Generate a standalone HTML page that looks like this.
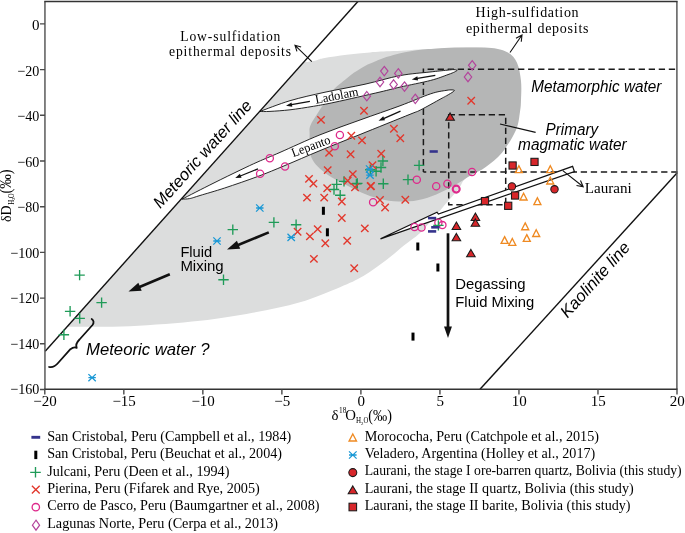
<!DOCTYPE html>
<html><head><meta charset="utf-8"><style>
html,body{margin:0;padding:0;background:#fff;}
svg{display:block;will-change:transform;}
</style></head><body>
<svg width="685" height="533" viewBox="0 0 685 533">
<clipPath id="cmw"><polygon points="45.2,351.2 357.9,1.5 700,1.5 700,400 45.2,400"/></clipPath>
<path d="M 250,69.5 C 296.4,29.8 296.17,63.68 308.4,61.8 C 320.63,59.92 317.02,59.38 323.4,58.2 C 329.78,57.02 338.93,55.67 346.7,54.7 C 354.47,53.73 362.22,53 370,52.4 C 377.78,51.8 383.4,51.63 393.4,51.1 C 403.4,50.57 413.9,49.55 430,49.2 C 446.1,48.85 476.33,45.53 490,49 C 503.67,52.47 508.33,58.17 512,70 C 515.67,81.83 515.67,105 512,120 C 508.33,135 497.62,150.42 490,160 C 482.38,169.58 471.5,172.7 466.3,177.5 C 461.1,182.3 462.23,184.42 458.8,188.8 C 455.37,193.18 449.45,199.43 445.7,203.8 C 441.95,208.17 440.58,210.15 436.3,215 C 432.02,219.85 425.35,227.87 420,232.9 C 414.65,237.93 409.75,240.72 404.2,245.2 C 398.65,249.68 393.5,254.65 386.7,259.8 C 379.9,264.95 371.18,271.53 363.4,276.1 C 355.62,280.67 350.57,282.83 340,287.2 C 329.43,291.57 314.55,298.03 300,302.3 C 285.45,306.57 269.37,309.72 252.7,312.8 C 236.03,315.88 220.45,318.57 200,320.8 C 179.55,323.03 151.67,325.2 130,326.2 C 108.33,327.2 86.67,326.7 70,326.8 C 53.33,326.9 36.67,331.27 30,326.8 C 23.33,322.33 -6.67,342.88 30,300 C 66.67,257.12 203.6,109.2 250,69.5 Z" fill="#dcdddd" clip-path="url(#cmw)"/>
<path d="M 309.6,135 C 309.72,131.45 308.88,129.45 310.3,125.7 C 311.72,121.95 315.57,116.53 318.1,112.5 C 320.63,108.47 323.08,105.08 325.5,101.5 C 327.92,97.92 330.73,93.48 332.6,91 C 334.47,88.52 334.57,88.5 336.7,86.6 C 338.83,84.7 342.48,81.93 345.4,79.6 C 348.32,77.27 350.93,74.88 354.2,72.6 C 357.47,70.32 361.53,67.75 365,65.9 C 368.47,64.05 372.22,62.7 375,61.5 C 377.78,60.3 378.63,59.78 381.7,58.7 C 384.77,57.62 389.52,56.07 393.4,55 C 397.28,53.93 401.12,53.08 405,52.3 C 408.88,51.52 412.8,50.83 416.7,50.3 C 420.6,49.77 424.52,49.45 428.4,49.1 C 432.28,48.75 434.58,48.45 440,48.2 C 445.42,47.95 452.32,47.63 460.9,47.6 C 469.48,47.57 483.67,47.18 491.5,48 C 499.33,48.82 503.65,50.05 507.9,52.5 C 512.15,54.95 514.82,57.95 517,62.7 C 519.18,67.45 520.33,74.78 521,81 C 521.67,87.22 521.17,94.88 521,100 C 520.83,105.12 520.83,106.7 520,111.7 C 519.17,116.7 519,123.17 516,130 C 513,136.83 507.03,146.53 502,152.7 C 496.97,158.87 490.88,163.28 485.8,167 C 480.72,170.72 476.63,172 471.5,175 C 466.37,178 460.87,181.77 455,185 C 449.13,188.23 442.55,191.87 436.3,194.4 C 430.05,196.93 423.75,199 417.5,200.2 C 411.25,201.4 405.25,201.85 398.8,201.6 C 392.35,201.35 385.05,200.2 378.8,198.7 C 372.55,197.2 367.13,195.08 361.3,192.6 C 355.47,190.12 349.35,186.73 343.8,183.8 C 338.25,180.87 332.38,177.92 328,175 C 323.62,172.08 320.27,169.22 317.5,166.3 C 314.73,163.38 312.72,160.72 311.4,157.5 C 310.08,154.28 309.9,150.75 309.6,147 C 309.3,143.25 309.48,138.55 309.6,135 Z" fill="#b5b6b6"/>
<path d="M 427.6,69.2 H 677" stroke="#1a1a1a" stroke-width="1.5" stroke-dasharray="6.3,3.75" fill="none"/>
<path d="M 423.4,68.6 V 171.9" stroke="#1a1a1a" stroke-width="1.5" stroke-dasharray="6.3,3.75" fill="none"/>
<path d="M 677.5,172 H 423.4" stroke="#1a1a1a" stroke-width="1.5" stroke-dasharray="6.3,3.75" fill="none"/>
<path d="M 448.7,114.8 H 505.7 V 204.7 H 448.7 Z" stroke="#1a1a1a" stroke-width="1.5" stroke-dasharray="6.3,3.7" fill="none"/>
<path d="M 259.7,111.5 C 264.75,109.7 279.12,103.92 290,100.7 C 300.88,97.48 312.5,94.95 325,92.2 C 337.5,89.45 352.5,86.97 365,84.2 C 377.5,81.43 389.17,77.63 400,75.6 C 410.83,73.57 422.17,72.9 430,72 C 437.83,71.1 443,70.6 447,70.2 C 451,69.8 452.3,69.57 454,69.6 C 455.7,69.63 456.67,70.27 457.2,70.4  L 457.2,70.4 C 456.75,70.67 456.03,71.3 454.5,72 C 452.97,72.7 451.97,73.2 448,74.6 C 444.03,76 438.7,78.32 430.7,80.4 C 422.7,82.48 408.45,85.17 400,87.1 C 391.55,89.03 390.83,89.48 380,92 C 369.17,94.52 346.1,99.82 335,102.2 C 323.9,104.58 320.9,105.03 313.4,106.3 C 305.9,107.57 297.23,108.95 290,109.8 C 282.77,110.65 275.05,111.12 270,111.4 C 264.95,111.68 261.42,111.48 259.7,111.5 Z" fill="#fff" stroke="#111" stroke-width="0.9"/>
<path d="M 182.1,199.1 C 187.25,196.48 203.35,188.22 213,183.4 C 222.65,178.58 232.5,173.8 240,170.2 C 247.5,166.6 251.33,164.77 258,161.8 C 264.67,158.83 269.67,156.9 280,152.4 C 290.33,147.9 306.67,140.2 320,134.8 C 333.33,129.4 346.67,124.83 360,120 C 373.33,115.17 388.22,110.17 400,105.8 C 411.78,101.43 423.03,96.37 430.7,93.8 C 438.37,91.23 442.45,91.05 446,90.4 C 449.55,89.75 450.6,89.92 452,89.9 C 453.4,89.88 454,90.23 454.4,90.3  L 454.4,90.3 C 454.18,90.55 454.33,90.93 453.1,91.8 C 451.87,92.67 449.03,94.33 447,95.5 C 444.97,96.67 445.33,96.38 440.9,98.8 C 436.47,101.22 425.55,107.42 420.4,110 C 415.25,112.58 420.07,110.22 410,114.3 C 399.93,118.38 375,128.45 360,134.5 C 345,140.55 332.5,145.43 320,150.6 C 307.5,155.77 295.33,161.2 285,165.5 C 274.67,169.8 268.05,172.65 258,176.4 C 247.95,180.15 234.37,184.82 224.7,188 C 215.03,191.18 205.83,193.73 200,195.5 C 194.17,197.27 192.68,198 189.7,198.6 C 186.72,199.2 183.37,199.02 182.1,199.1 Z" fill="#fff" stroke="#111" stroke-width="0.9"/>
<path d="M 380.5,238.8 L 437,212.2 L 438.4,214.1 L 572.6,166.3 L 574.4,171.5 Z" fill="#fff" stroke="#111" stroke-width="1.25"/>
<line x1="45.2" y1="351.2" x2="357.9" y2="1.5" stroke="#111" stroke-width="1.4"/>
<line x1="480.0" y1="389.3" x2="677.2" y2="172.8" stroke="#111" stroke-width="1.4"/>
<path d="M 91.7,319 C 93.8,320.3 94.2,323 92.5,325 L 79.5,339.5 C 77,342 75.3,344.5 76.7,347.8 C 74.5,347 72.5,347.6 70.4,349.2 L 58.5,362.5 C 56,365.5 53,368 49.1,367" fill="none" stroke="#111" stroke-width="1.8" stroke-linecap="round" stroke-linejoin="round"/>
<line x1="500" y1="124" x2="535.6" y2="132.4" stroke="#111" stroke-width="1.1"/>
<path d="M 311.8,61.6 L 295,45.3 M 301.11,47.05 L 295,45.3 L 296.93,51.35" stroke="#111" stroke-width="1.1" fill="none" stroke-linejoin="miter"/>
<path d="M 510,52.5 L 522,35 M 521.25,41.76 L 522,35 L 515.97,38.14" stroke="#111" stroke-width="1.1" fill="none" stroke-linejoin="miter"/>
<path d="M 562.8,170.6 L 583.2,186.8 M 576.51,185.57 L 583.2,186.8 L 580.49,180.56" stroke="#111" stroke-width="1.1" fill="none" stroke-linejoin="miter"/>
<line x1="169.8" y1="274.2" x2="136.56" y2="288.2" stroke="#111" stroke-width="2.6"/><path d="M 128.5,291.6 L 138.35,282.78 L 141.69,290.71 Z" fill="#111"/>
<line x1="268.8" y1="232.4" x2="235.09" y2="246.27" stroke="#111" stroke-width="2.6"/><path d="M 227,249.6 L 236.92,240.87 L 240.2,248.82 Z" fill="#111"/>
<line x1="448" y1="233.3" x2="448" y2="330.02" stroke="#111" stroke-width="2.7"/><path d="M 448,338 L 444.05,326.6 L 451.95,326.6 Z" fill="#111"/>
<line x1="309.9" y1="101.4" x2="290.13" y2="104.96" stroke="#111" stroke-width="1.3"/><path d="M 286,105.7 L 291.52,102.47 L 292.29,106.8 Z" fill="#111"/>
<line x1="435.3" y1="75.3" x2="415.94" y2="78.68" stroke="#111" stroke-width="1.3"/><path d="M 411.8,79.4 L 417.33,76.2 L 418.09,80.54 Z" fill="#111"/>
<line x1="258" y1="168.8" x2="239.09" y2="176.51" stroke="#111" stroke-width="1.3"/><path d="M 235.2,178.1 L 239.92,173.8 L 241.59,177.87 Z" fill="#111"/>
<line x1="400.5" y1="111.2" x2="382.45" y2="119.03" stroke="#111" stroke-width="1.3"/><path d="M 378.6,120.7 L 383.23,116.29 L 384.98,120.33 Z" fill="#111"/>
<path d="M 44.95,1.5 V 389.3 M 676.9,1.5 V 389.3" stroke="#555" stroke-width="1.45" fill="none"/>
<path d="M 44.25,1.5 H 677.6 M 44.25,389.25 H 677.6" stroke="#333" stroke-width="1.4" fill="none"/>
<text x="39.4" y="30.2" text-anchor="end" font-family="'Liberation Serif', serif" font-size="15" fill="#000">0</text>
<text x="39.4" y="75.72" text-anchor="end" font-family="'Liberation Serif', serif" font-size="15" fill="#000" textLength="22.05" lengthAdjust="spacingAndGlyphs">−20</text>
<text x="39.4" y="121.23" text-anchor="end" font-family="'Liberation Serif', serif" font-size="15" fill="#000" textLength="22.05" lengthAdjust="spacingAndGlyphs">−40</text>
<text x="39.4" y="166.75" text-anchor="end" font-family="'Liberation Serif', serif" font-size="15" fill="#000" textLength="22.05" lengthAdjust="spacingAndGlyphs">−60</text>
<text x="39.4" y="212.27" text-anchor="end" font-family="'Liberation Serif', serif" font-size="15" fill="#000" textLength="22.05" lengthAdjust="spacingAndGlyphs">−80</text>
<text x="39.4" y="257.78" text-anchor="end" font-family="'Liberation Serif', serif" font-size="15" fill="#000" textLength="29.1" lengthAdjust="spacingAndGlyphs">−100</text>
<text x="39.4" y="303.3" text-anchor="end" font-family="'Liberation Serif', serif" font-size="15" fill="#000" textLength="29.1" lengthAdjust="spacingAndGlyphs">−120</text>
<text x="39.4" y="348.82" text-anchor="end" font-family="'Liberation Serif', serif" font-size="15" fill="#000" textLength="29.1" lengthAdjust="spacingAndGlyphs">−140</text>
<text x="39.4" y="394.33" text-anchor="end" font-family="'Liberation Serif', serif" font-size="15" fill="#000" textLength="29.1" lengthAdjust="spacingAndGlyphs">−160</text>
<text x="45.1" y="406" text-anchor="middle" font-family="'Liberation Serif', serif" font-size="15" fill="#000">−20</text>
<text x="124.12" y="406" text-anchor="middle" font-family="'Liberation Serif', serif" font-size="15" fill="#000">−15</text>
<text x="203.15" y="406" text-anchor="middle" font-family="'Liberation Serif', serif" font-size="15" fill="#000">−10</text>
<text x="282.18" y="406" text-anchor="middle" font-family="'Liberation Serif', serif" font-size="15" fill="#000">−5</text>
<text x="361.2" y="406" text-anchor="middle" font-family="'Liberation Serif', serif" font-size="15" fill="#000">0</text>
<text x="440.23" y="406" text-anchor="middle" font-family="'Liberation Serif', serif" font-size="15" fill="#000">5</text>
<text x="519.25" y="406" text-anchor="middle" font-family="'Liberation Serif', serif" font-size="15" fill="#000">10</text>
<text x="598.27" y="406" text-anchor="middle" font-family="'Liberation Serif', serif" font-size="15" fill="#000">15</text>
<text x="677.3" y="406" text-anchor="middle" font-family="'Liberation Serif', serif" font-size="15" fill="#000">20</text>
<path d="M 40,23.9 H 45 M 40,69.6 H 45 M 40,115.3 H 45 M 40,161 H 45 M 40,206.7 H 45 M 40,252.4 H 45 M 40,298.1 H 45 M 40,343.8 H 45 M 40,389.5 H 45 M 44.8,389.5 V 394.5 M 123.83,389.5 V 394.5 M 202.85,389.5 V 394.5 M 281.88,389.5 V 394.5 M 360.9,389.5 V 394.5 M 439.93,389.5 V 394.5 M 518.95,389.5 V 394.5 M 597.97,389.5 V 394.5 M 677,389.5 V 394.5" stroke="#4a4a4a" stroke-width="1.4"/>
<text x="331.6" y="420.3" font-family="'Liberation Serif', serif" font-size="14.8" fill="#000">δ</text>
<text x="339.1" y="412.9" font-family="'Liberation Serif', serif" font-size="7.3" fill="#000">18</text>
<text x="345.3" y="420.3" font-family="'Liberation Serif', serif" font-size="14.8" fill="#000">O</text>
<text x="356" y="422.9" font-family="'Liberation Serif', serif" font-size="7.8" fill="#000" textLength="5.1" lengthAdjust="spacingAndGlyphs">H</text>
<text x="360.9" y="424.5" font-family="'Liberation Serif', serif" font-size="4.8" fill="#000">2</text>
<text x="363.6" y="422.9" font-family="'Liberation Serif', serif" font-size="7.8" fill="#000" textLength="4.8" lengthAdjust="spacingAndGlyphs">O</text>
<text x="368.3" y="420.6" font-family="'Liberation Serif', serif" font-size="16.2" fill="#000" textLength="23.6" lengthAdjust="spacingAndGlyphs">(‰)</text>
<g transform="translate(10.9,221.8) rotate(-90)"><text x="-0.3" y="0" font-family="'Liberation Serif', serif" font-size="14.8" fill="#000" textLength="16.6" lengthAdjust="spacingAndGlyphs">δD</text><text x="17.1" y="2.8" font-family="'Liberation Serif', serif" font-size="7.8" fill="#000" textLength="5" lengthAdjust="spacingAndGlyphs">H</text><text x="21.9" y="4.4" font-family="'Liberation Serif', serif" font-size="4.8" fill="#000">2</text><text x="23.9" y="2.8" font-family="'Liberation Serif', serif" font-size="7.8" fill="#000" textLength="4.6" lengthAdjust="spacingAndGlyphs">O</text><text x="28.3" y="0.3" font-family="'Liberation Serif', serif" font-size="16.2" fill="#000" textLength="24.2" lengthAdjust="spacingAndGlyphs">(‰)</text></g>
<text x="180.2" y="41.1" font-family="'Liberation Serif', serif" font-size="13.6" fill="#000" textLength="100.2" lengthAdjust="spacing">Low-sulfidation</text>
<text x="169" y="56" font-family="'Liberation Serif', serif" font-size="13.6" fill="#000" textLength="122" lengthAdjust="spacing">epithermal deposits</text>
<text x="475.6" y="17.4" font-family="'Liberation Serif', serif" font-size="14" fill="#000" textLength="103" lengthAdjust="spacing">High-sulfidation</text>
<text x="465.9" y="32.5" font-family="'Liberation Serif', serif" font-size="14" fill="#000" textLength="122.6" lengthAdjust="spacing">epithermal deposits</text>
<text x="531.3" y="91.5" font-family="'Liberation Sans', sans-serif" font-size="16.3" fill="#000" font-style="italic" textLength="130" lengthAdjust="spacingAndGlyphs">Metamorphic water</text>
<text x="545.6" y="135.1" font-family="'Liberation Sans', sans-serif" font-size="16.3" fill="#000" font-style="italic" textLength="52.5" lengthAdjust="spacingAndGlyphs">Primary</text>
<text x="518.1" y="149.7" font-family="'Liberation Sans', sans-serif" font-size="16.3" fill="#000" font-style="italic" textLength="108.6" lengthAdjust="spacingAndGlyphs">magmatic water</text>
<text x="584.8" y="193" font-family="'Liberation Serif', serif" font-size="14.4" fill="#000" textLength="47" lengthAdjust="spacingAndGlyphs">Laurani</text>
<text x="180.4" y="256.6" font-family="'Liberation Sans', sans-serif" font-size="14.6" fill="#000" textLength="31.8" lengthAdjust="spacingAndGlyphs">Fluid</text>
<text x="180.4" y="271.1" font-family="'Liberation Sans', sans-serif" font-size="14.6" fill="#000" textLength="43.3" lengthAdjust="spacingAndGlyphs">Mixing</text>
<text x="455.3" y="288.5" font-family="'Liberation Sans', sans-serif" font-size="14.6" fill="#000" textLength="70.3" lengthAdjust="spacingAndGlyphs">Degassing</text>
<text x="455.3" y="307.2" font-family="'Liberation Sans', sans-serif" font-size="14.6" fill="#000" textLength="79" lengthAdjust="spacingAndGlyphs">Fluid Mixing</text>
<text x="86" y="355.4" font-family="'Liberation Sans', sans-serif" font-size="16.4" fill="#000" font-style="italic" textLength="123.5" lengthAdjust="spacingAndGlyphs">Meteoric water ?</text>
<text x="0" y="0" font-family="'Liberation Sans', sans-serif" font-size="16.6" fill="#000" font-style="italic" textLength="138.5" lengthAdjust="spacingAndGlyphs" transform="translate(160.3,209.2) rotate(-48.1)">Meteoric water line</text>
<text x="0" y="0" font-family="'Liberation Sans', sans-serif" font-size="16.8" fill="#000" font-style="italic" textLength="95" lengthAdjust="spacingAndGlyphs" transform="translate(567.6,318.8) rotate(-48.1)">Kaolinite line</text>
<text x="0" y="0" font-family="'Liberation Serif', serif" font-size="12.9" fill="#000" textLength="43.8" lengthAdjust="spacingAndGlyphs" transform="translate(316.0,103.8) rotate(-10.9)">Ladolam</text>
<text x="0" y="0" font-family="'Liberation Serif', serif" font-size="12.9" fill="#000" textLength="40.6" lengthAdjust="spacingAndGlyphs" transform="translate(293.2,157.2) rotate(-20.4)">Lepanto</text>
<circle cx="269.8" cy="158.3" r="3.6" fill="none" stroke="#de2a8c" stroke-width="1.3"/>
<circle cx="285" cy="166.5" r="3.6" fill="none" stroke="#de2a8c" stroke-width="1.3"/>
<circle cx="260.1" cy="173.7" r="3.6" fill="none" stroke="#de2a8c" stroke-width="1.3"/>
<circle cx="339.9" cy="135" r="3.6" fill="none" stroke="#de2a8c" stroke-width="1.3"/>
<circle cx="334.8" cy="146.2" r="3.6" fill="none" stroke="#de2a8c" stroke-width="1.3"/>
<circle cx="373.1" cy="202.3" r="3.6" fill="none" stroke="#de2a8c" stroke-width="1.3"/>
<circle cx="472" cy="172" r="3.6" fill="none" stroke="#de2a8c" stroke-width="1.3"/>
<circle cx="416.8" cy="179.8" r="3.6" fill="none" stroke="#de2a8c" stroke-width="1.3"/>
<circle cx="436.2" cy="186.2" r="3.6" fill="none" stroke="#de2a8c" stroke-width="1.3"/>
<circle cx="447.4" cy="183.7" r="3.6" fill="none" stroke="#de2a8c" stroke-width="1.3"/>
<circle cx="456.2" cy="189.1" r="3.5" fill="none" stroke="#de2a8c" stroke-width="2.1"/>
<circle cx="414.5" cy="227" r="3.6" fill="none" stroke="#de2a8c" stroke-width="1.3"/>
<circle cx="421.5" cy="227.5" r="3.6" fill="none" stroke="#de2a8c" stroke-width="1.3"/>
<circle cx="438.4" cy="222.8" r="3.6" fill="none" stroke="#de2a8c" stroke-width="1.3"/>
<circle cx="442.4" cy="225.1" r="3.6" fill="none" stroke="#de2a8c" stroke-width="1.3"/>
<path d="M 74.4,275.1 H 84.8 M 79.6,269.9 V 280.3" stroke="#1f9b58" stroke-width="1.35"/>
<path d="M 96.4,302.6 H 106.8 M 101.6,297.4 V 307.8" stroke="#1f9b58" stroke-width="1.35"/>
<path d="M 64.9,311.3 H 75.3 M 70.1,306.1 V 316.5" stroke="#1f9b58" stroke-width="1.35"/>
<path d="M 74.5,318.3 H 84.9 M 79.7,313.1 V 323.5" stroke="#1f9b58" stroke-width="1.35"/>
<path d="M 58.7,334.7 H 69.1 M 63.9,329.5 V 339.9" stroke="#1f9b58" stroke-width="1.35"/>
<path d="M 227.6,229.6 H 238 M 232.8,224.4 V 234.8" stroke="#1f9b58" stroke-width="1.35"/>
<path d="M 268.7,222.4 H 279.1 M 273.9,217.2 V 227.6" stroke="#1f9b58" stroke-width="1.35"/>
<path d="M 218.3,279.7 H 228.7 M 223.5,274.5 V 284.9" stroke="#1f9b58" stroke-width="1.35"/>
<path d="M 290.9,224.7 H 301.3 M 296.1,219.5 V 229.9" stroke="#1f9b58" stroke-width="1.35"/>
<path d="M 335,195.2 H 345.4 M 340.2,190 V 200.4" stroke="#1f9b58" stroke-width="1.35"/>
<path d="M 328.8,189.5 H 339.2 M 334,184.3 V 194.7" stroke="#1f9b58" stroke-width="1.35"/>
<path d="M 331.5,184.3 H 341.9 M 336.7,179.1 V 189.5" stroke="#1f9b58" stroke-width="1.35"/>
<path d="M 338.8,181.4 H 349.2 M 344,176.2 V 186.6" stroke="#1f9b58" stroke-width="1.35"/>
<path d="M 351.2,183.9 H 361.6 M 356.4,178.7 V 189.1" stroke="#1f9b58" stroke-width="1.35"/>
<path d="M 377.7,161 H 388.1 M 382.9,155.8 V 166.2" stroke="#1f9b58" stroke-width="1.35"/>
<path d="M 375.8,167.5 H 386.2 M 381,162.3 V 172.7" stroke="#1f9b58" stroke-width="1.35"/>
<path d="M 370.9,171.2 H 381.3 M 376.1,166 V 176.4" stroke="#1f9b58" stroke-width="1.35"/>
<path d="M 365.1,169.7 H 375.5 M 370.3,164.5 V 174.9" stroke="#1f9b58" stroke-width="1.35"/>
<path d="M 378.1,183.7 H 388.5 M 383.3,178.5 V 188.9" stroke="#1f9b58" stroke-width="1.35"/>
<path d="M 352.1,183.4 H 362.5 M 357.3,178.2 V 188.6" stroke="#1f9b58" stroke-width="1.35"/>
<path d="M 413.9,165.4 H 424.3 M 419.1,160.2 V 170.6" stroke="#1f9b58" stroke-width="1.35"/>
<path d="M 402.8,179.6 H 413.2 M 408,174.4 V 184.8" stroke="#1f9b58" stroke-width="1.35"/>
<path d="M 433.2,225.4 H 443.6 M 438.4,220.2 V 230.6" stroke="#1f9b58" stroke-width="1.35"/>
<path d="M 303.3,193.9 L 310.7,201.3 M 303.3,201.3 L 310.7,193.9" stroke="#e2372c" stroke-width="1.35"/>
<path d="M 320.5,193.9 L 327.9,201.3 M 320.5,201.3 L 327.9,193.9" stroke="#e2372c" stroke-width="1.35"/>
<path d="M 338.1,197.8 L 345.5,205.2 M 338.1,205.2 L 345.5,197.8" stroke="#e2372c" stroke-width="1.35"/>
<path d="M 338.1,214.3 L 345.5,221.7 M 338.1,221.7 L 345.5,214.3" stroke="#e2372c" stroke-width="1.35"/>
<path d="M 361.1,224.7 L 368.5,232.1 M 361.1,232.1 L 368.5,224.7" stroke="#e2372c" stroke-width="1.35"/>
<path d="M 293.9,228 L 301.3,235.4 M 293.9,235.4 L 301.3,228" stroke="#e2372c" stroke-width="1.35"/>
<path d="M 314,225.4 L 321.4,232.8 M 314,232.8 L 321.4,225.4" stroke="#e2372c" stroke-width="1.35"/>
<path d="M 306.2,232.7 L 313.6,240.1 M 306.2,240.1 L 313.6,232.7" stroke="#e2372c" stroke-width="1.35"/>
<path d="M 321.6,239.6 L 329,247 M 321.6,247 L 329,239.6" stroke="#e2372c" stroke-width="1.35"/>
<path d="M 343.5,237.1 L 350.9,244.5 M 343.5,244.5 L 350.9,237.1" stroke="#e2372c" stroke-width="1.35"/>
<path d="M 310.2,255.2 L 317.6,262.6 M 310.2,262.6 L 317.6,255.2" stroke="#e2372c" stroke-width="1.35"/>
<path d="M 350.5,264.6 L 357.9,272 M 350.5,272 L 357.9,264.6" stroke="#e2372c" stroke-width="1.35"/>
<path d="M 325.4,149.2 L 332.8,156.6 M 325.4,156.6 L 332.8,149.2" stroke="#e2372c" stroke-width="1.35"/>
<path d="M 346.9,150.6 L 354.3,158 M 346.9,158 L 354.3,150.6" stroke="#e2372c" stroke-width="1.35"/>
<path d="M 377.5,150.1 L 384.9,157.5 M 377.5,157.5 L 384.9,150.1" stroke="#e2372c" stroke-width="1.35"/>
<path d="M 324,166.4 L 331.4,173.8 M 324,173.8 L 331.4,166.4" stroke="#e2372c" stroke-width="1.35"/>
<path d="M 349.1,170.4 L 356.5,177.8 M 349.1,177.8 L 356.5,170.4" stroke="#e2372c" stroke-width="1.35"/>
<path d="M 368.8,161.6 L 376.2,169 M 368.8,169 L 376.2,161.6" stroke="#e2372c" stroke-width="1.35"/>
<path d="M 305.3,175.2 L 312.7,182.6 M 305.3,182.6 L 312.7,175.2" stroke="#e2372c" stroke-width="1.35"/>
<path d="M 309.7,179.9 L 317.1,187.3 M 309.7,187.3 L 317.1,179.9" stroke="#e2372c" stroke-width="1.35"/>
<path d="M 323.5,184.5 L 330.9,191.9 M 323.5,191.9 L 330.9,184.5" stroke="#e2372c" stroke-width="1.35"/>
<path d="M 344,177 L 351.4,184.4 M 344,184.4 L 351.4,177" stroke="#e2372c" stroke-width="1.35"/>
<path d="M 351.3,183.5 L 358.7,190.9 M 351.3,190.9 L 358.7,183.5" stroke="#e2372c" stroke-width="1.35"/>
<path d="M 366.9,182.5 L 374.3,189.9 M 366.9,189.9 L 374.3,182.5" stroke="#e2372c" stroke-width="1.35"/>
<path d="M 376.3,196.3 L 383.7,203.7 M 376.3,203.7 L 383.7,196.3" stroke="#e2372c" stroke-width="1.35"/>
<path d="M 381.4,203.8 L 388.8,211.2 M 381.4,211.2 L 388.8,203.8" stroke="#e2372c" stroke-width="1.35"/>
<path d="M 317.3,116.2 L 324.7,123.6 M 317.3,123.6 L 324.7,116.2" stroke="#e2372c" stroke-width="1.35"/>
<path d="M 360.3,107.1 L 367.7,114.5 M 360.3,114.5 L 367.7,107.1" stroke="#e2372c" stroke-width="1.35"/>
<path d="M 347.6,132.1 L 355,139.5 M 347.6,139.5 L 355,132.1" stroke="#e2372c" stroke-width="1.35"/>
<path d="M 358.3,136.7 L 365.7,144.1 M 358.3,144.1 L 365.7,136.7" stroke="#e2372c" stroke-width="1.35"/>
<path d="M 390.2,125.1 L 397.6,132.5 M 390.2,132.5 L 397.6,125.1" stroke="#e2372c" stroke-width="1.35"/>
<path d="M 396.6,134.6 L 404,142 M 396.6,142 L 404,134.6" stroke="#e2372c" stroke-width="1.35"/>
<path d="M 467.5,97 L 474.9,104.4 M 467.5,104.4 L 474.9,97" stroke="#e2372c" stroke-width="1.35"/>
<path d="M 401.6,196.1 L 409,203.5 M 401.6,203.5 L 409,196.1" stroke="#e2372c" stroke-width="1.35"/>
<path d="M 367.3,182.3 L 374.7,189.7 M 367.3,189.7 L 374.7,182.3" stroke="#e2372c" stroke-width="1.35"/>
<path d="M 384.3,66.4 L 388,71.1 L 384.3,75.8 L 380.6,71.1 Z" fill="none" stroke="#b3449c" stroke-width="1.2"/>
<path d="M 398.3,68.7 L 402,73.4 L 398.3,78.1 L 394.6,73.4 Z" fill="none" stroke="#b3449c" stroke-width="1.2"/>
<path d="M 380,77.3 L 383.7,82 L 380,86.7 L 376.3,82 Z" fill="none" stroke="#b3449c" stroke-width="1.2"/>
<path d="M 393.6,79.8 L 397.3,84.5 L 393.6,89.2 L 389.9,84.5 Z" fill="none" stroke="#b3449c" stroke-width="1.2"/>
<path d="M 404.5,81.9 L 408.2,86.6 L 404.5,91.3 L 400.8,86.6 Z" fill="none" stroke="#b3449c" stroke-width="1.2"/>
<path d="M 366.8,91.5 L 370.5,96.2 L 366.8,100.9 L 363.1,96.2 Z" fill="none" stroke="#b3449c" stroke-width="1.2"/>
<path d="M 415.3,94.1 L 419,98.8 L 415.3,103.5 L 411.6,98.8 Z" fill="none" stroke="#b3449c" stroke-width="1.2"/>
<path d="M 472.2,60.6 L 475.9,65.3 L 472.2,70 L 468.5,65.3 Z" fill="none" stroke="#b3449c" stroke-width="1.2"/>
<path d="M 468,72.3 L 471.7,77 L 468,81.7 L 464.3,77 Z" fill="none" stroke="#b3449c" stroke-width="1.2"/>
<rect x="429.6" y="150.2" width="8.2" height="2.6" fill="#35338c"/>
<rect x="428" y="216.8" width="8.2" height="2.6" fill="#35338c"/>
<rect x="431.2" y="226" width="8.2" height="2.6" fill="#35338c"/>
<rect x="428" y="230.1" width="8.2" height="2.6" fill="#35338c"/>
<rect x="321.9" y="206.8" width="3" height="8" fill="#000"/>
<rect x="325.9" y="228.3" width="3" height="8" fill="#000"/>
<rect x="416.3" y="242.5" width="3" height="8" fill="#000"/>
<rect x="436.4" y="263.5" width="3" height="8" fill="#000"/>
<rect x="411.5" y="332.6" width="3" height="8" fill="#000"/>
<path d="M 88.4,374.1 L 95.8,381.3 M 88.4,381.3 L 95.8,374.1 M 88.4,377.7 H 95.8" stroke="#1a98d5" stroke-width="1.3"/>
<path d="M 256.1,204.4 L 263.5,211.6 M 256.1,211.6 L 263.5,204.4 M 256.1,208 H 263.5" stroke="#1a98d5" stroke-width="1.3"/>
<path d="M 213.3,237.4 L 220.7,244.6 M 213.3,244.6 L 220.7,237.4 M 213.3,241 H 220.7" stroke="#1a98d5" stroke-width="1.3"/>
<path d="M 287.5,233.8 L 294.9,241 M 287.5,241 L 294.9,233.8 M 287.5,237.4 H 294.9" stroke="#1a98d5" stroke-width="1.3"/>
<path d="M 365.9,165.4 L 373.3,172.6 M 365.9,172.6 L 373.3,165.4 M 365.9,169 H 373.3" stroke="#1a98d5" stroke-width="1.3"/>
<path d="M 366.3,171.5 L 373.7,178.7 M 366.3,178.7 L 373.7,171.5 M 366.3,175.1 H 373.7" stroke="#1a98d5" stroke-width="1.3"/>
<path d="M 518.9,165.8 L 522.4,172.6 L 515.4,172.6 Z" fill="none" stroke="#ef8a22" stroke-width="1.35" stroke-linejoin="miter"/>
<path d="M 550.3,165.8 L 553.8,172.6 L 546.8,172.6 Z" fill="none" stroke="#ef8a22" stroke-width="1.35" stroke-linejoin="miter"/>
<path d="M 550.3,177.2 L 553.8,184 L 546.8,184 Z" fill="none" stroke="#ef8a22" stroke-width="1.35" stroke-linejoin="miter"/>
<path d="M 523.6,193.2 L 527.1,200 L 520.1,200 Z" fill="none" stroke="#ef8a22" stroke-width="1.35" stroke-linejoin="miter"/>
<path d="M 537.4,197.8 L 540.9,204.6 L 533.9,204.6 Z" fill="none" stroke="#ef8a22" stroke-width="1.35" stroke-linejoin="miter"/>
<path d="M 525.2,222.9 L 528.7,229.7 L 521.7,229.7 Z" fill="none" stroke="#ef8a22" stroke-width="1.35" stroke-linejoin="miter"/>
<path d="M 536.2,229.7 L 539.7,236.5 L 532.7,236.5 Z" fill="none" stroke="#ef8a22" stroke-width="1.35" stroke-linejoin="miter"/>
<path d="M 526.8,234.6 L 530.3,241.4 L 523.3,241.4 Z" fill="none" stroke="#ef8a22" stroke-width="1.35" stroke-linejoin="miter"/>
<path d="M 504.6,236.6 L 508.1,243.4 L 501.1,243.4 Z" fill="none" stroke="#ef8a22" stroke-width="1.35" stroke-linejoin="miter"/>
<path d="M 512.3,238.5 L 515.8,245.3 L 508.8,245.3 Z" fill="none" stroke="#ef8a22" stroke-width="1.35" stroke-linejoin="miter"/>
<rect x="509" y="161.9" width="7.2" height="7.2" fill="#d7262a" stroke="#1a1a1a" stroke-width="1.05"/>
<rect x="530.9" y="158.3" width="7.2" height="7.2" fill="#d7262a" stroke="#1a1a1a" stroke-width="1.05"/>
<rect x="511.5" y="191.9" width="7.2" height="7.2" fill="#d7262a" stroke="#1a1a1a" stroke-width="1.05"/>
<rect x="504.6" y="202.2" width="7.2" height="7.2" fill="#d7262a" stroke="#1a1a1a" stroke-width="1.05"/>
<rect x="481.4" y="197.5" width="7.2" height="7.2" fill="#d7262a" stroke="#1a1a1a" stroke-width="1.05"/>
<circle cx="511.9" cy="186.4" r="3.7" fill="#d7262a" stroke="#1a1a1a" stroke-width="1.05"/>
<circle cx="554.5" cy="189.3" r="3.7" fill="#d7262a" stroke="#1a1a1a" stroke-width="1.05"/>
<path d="M 450.1,112.9 L 454.4,120.3 L 445.8,120.3 Z" fill="#d7262a" stroke="#1a1a1a" stroke-width="1.05" stroke-linejoin="miter"/>
<path d="M 475.4,213 L 479.7,220.4 L 471.1,220.4 Z" fill="#d7262a" stroke="#1a1a1a" stroke-width="1.05" stroke-linejoin="miter"/>
<path d="M 475.4,218.9 L 479.7,226.3 L 471.1,226.3 Z" fill="#d7262a" stroke="#1a1a1a" stroke-width="1.05" stroke-linejoin="miter"/>
<path d="M 456.4,222.1 L 460.7,229.5 L 452.1,229.5 Z" fill="#d7262a" stroke="#1a1a1a" stroke-width="1.05" stroke-linejoin="miter"/>
<path d="M 456.4,233.4 L 460.7,240.8 L 452.1,240.8 Z" fill="#d7262a" stroke="#1a1a1a" stroke-width="1.05" stroke-linejoin="miter"/>
<path d="M 470.9,249.4 L 475.2,256.8 L 466.6,256.8 Z" fill="#d7262a" stroke="#1a1a1a" stroke-width="1.05" stroke-linejoin="miter"/>
<text x="47.2" y="440.8" font-family="'Liberation Serif', serif" font-size="14.2" fill="#000" textLength="244" lengthAdjust="spacingAndGlyphs">San Cristobal, Peru (Campbell et al., 1984)</text>
<text x="47.2" y="458.25" font-family="'Liberation Serif', serif" font-size="14.2" fill="#000" textLength="234.8" lengthAdjust="spacingAndGlyphs">San Cristobal, Peru (Beuchat et al., 2004)</text>
<text x="47.2" y="475.7" font-family="'Liberation Serif', serif" font-size="14.2" fill="#000" textLength="182.2" lengthAdjust="spacingAndGlyphs">Julcani, Peru (Deen et al., 1994)</text>
<text x="47.2" y="493.2" font-family="'Liberation Serif', serif" font-size="14.2" fill="#000" textLength="212.6" lengthAdjust="spacingAndGlyphs">Pierina, Peru (Fifarek and Rye, 2005)</text>
<text x="47.2" y="510.4" font-family="'Liberation Serif', serif" font-size="14.2" fill="#000" textLength="272.3" lengthAdjust="spacingAndGlyphs">Cerro de Pasco, Peru (Baumgartner et al., 2008)</text>
<text x="47.2" y="527.6" font-family="'Liberation Serif', serif" font-size="14.2" fill="#000" textLength="230.8" lengthAdjust="spacingAndGlyphs">Lagunas Norte, Peru (Cerpa et al., 2013)</text>
<text x="364.7" y="440.8" font-family="'Liberation Serif', serif" font-size="14.2" fill="#000" textLength="234.3" lengthAdjust="spacingAndGlyphs">Morococha, Peru (Catchpole et al., 2015)</text>
<text x="364.7" y="458.0" font-family="'Liberation Serif', serif" font-size="14.2" fill="#000" textLength="230.6" lengthAdjust="spacingAndGlyphs">Veladero, Argentina (Holley et al., 2017)</text>
<text x="364.7" y="475.4" font-family="'Liberation Serif', serif" font-size="14.2" fill="#000" textLength="317" lengthAdjust="spacingAndGlyphs">Laurani, the stage I ore-barren quartz, Bolivia (this study)</text>
<text x="364.7" y="492.8" font-family="'Liberation Serif', serif" font-size="14.2" fill="#000" textLength="269" lengthAdjust="spacingAndGlyphs">Laurani, the stage II quartz, Bolivia (this study)</text>
<text x="364.7" y="510.0" font-family="'Liberation Serif', serif" font-size="14.2" fill="#000" textLength="265.9" lengthAdjust="spacingAndGlyphs">Laurani, the stage II barite, Bolivia (this study)</text>
<rect x="31.4" y="435.85" width="8.8" height="2.9" fill="#35338c"/>
<rect x="34.3" y="450.7" width="3" height="8.4" fill="#000"/>
<path d="M 30.2,472.3 H 40.8 M 35.5,467 V 477.6" stroke="#1f9b58" stroke-width="1.35"/>
<path d="M 31.9,485.8 L 39.7,493.6 M 31.9,493.6 L 39.7,485.8" stroke="#e2372c" stroke-width="1.35"/>
<circle cx="35.8" cy="507.2" r="3.7" fill="none" stroke="#de2a8c" stroke-width="1.3"/>
<path d="M 36,520.2 L 39.6,525.2 L 36,530.2 L 32.4,525.2 Z" fill="none" stroke="#b3449c" stroke-width="1.2"/>
<path d="M 352.8,434 L 356.5,441 L 349.1,441 Z" fill="none" stroke="#ef8a22" stroke-width="1.35" stroke-linejoin="miter"/>
<path d="M 349,451.4 L 356.6,458.6 M 349,458.6 L 356.6,451.4 M 349,455 H 356.6" stroke="#1a98d5" stroke-width="1.3"/>
<circle cx="352.8" cy="472.6" r="4.0" fill="#d7262a" stroke="#1a1a1a" stroke-width="1.05"/>
<path d="M 352.8,485.9 L 357.4,493.7 L 348.2,493.7 Z" fill="#d7262a" stroke="#1a1a1a" stroke-width="1.05" stroke-linejoin="miter"/>
<rect x="349" y="503.2" width="7.6" height="7.6" fill="#d7262a" stroke="#1a1a1a" stroke-width="1.05"/>
</svg>
</body></html>
